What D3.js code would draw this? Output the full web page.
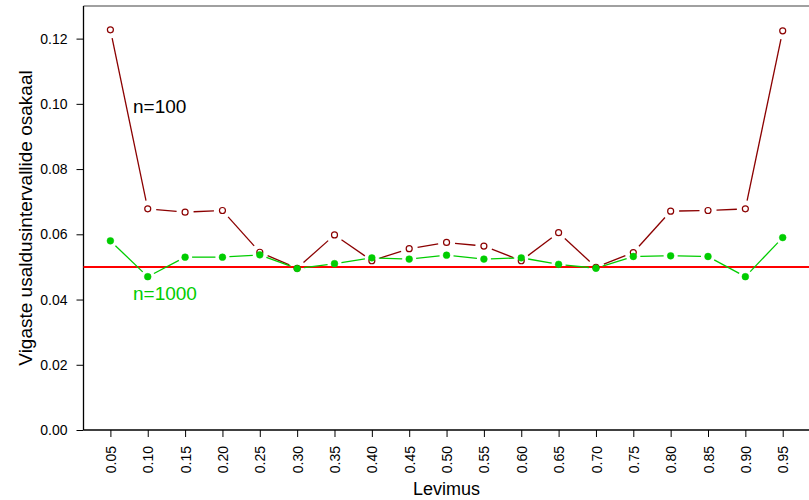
<!DOCTYPE html>
<html>
<head>
<meta charset="utf-8">
<script src="https://cdn.jsdelivr.net/npm/d3@7"></script>
<style>
  html, body { margin: 0; padding: 0; background: #fff; }
  svg { display: block; font-family: "Liberation Sans", Arial, sans-serif; }
</style>
</head>
<body>
<svg id="chart" width="809" height="500"></svg>
<script>
// Prevalence levels on the x axis
const levels = ["0.05","0.10","0.15","0.20","0.25","0.30","0.35","0.40","0.45","0.50",
                "0.55","0.60","0.65","0.70","0.75","0.80","0.85","0.90","0.95"];
// Share of confidence intervals that miss the true value, n = 100
const share100 = [0.1227,0.0678,0.0668,0.0673,0.0545,0.0496,0.0598,0.0519,0.0556,0.0575,
                  0.0564,0.0519,0.0605,0.0499,0.0544,0.0671,0.0673,0.0678,0.1224];
// Same for n = 1000
const share1000 = [0.0580,0.0470,0.0530,0.0530,0.0537,0.0495,0.0510,0.0528,0.0524,0.0536,
                   0.0524,0.0528,0.0508,0.0496,0.0532,0.0534,0.0532,0.0470,0.0590];
const yTicks = [0.00,0.02,0.04,0.06,0.08,0.10,0.12];
const nominal = 0.05;

const svg = d3.select("#chart");
const plotLeft = 83.5, plotRight = 809.6, plotTop = 6, plotBottom = 430;

// R-style x range: indices 1..19 padded by 4%
const x = d3.scaleLinear().domain([0.28, 19.72]).range([plotLeft, plotRight]);
const y = d3.scaleLinear().domain([0, 0.13]).range([plotBottom, plotTop]);
const xi = i => x(i + 1);

// top frame edge
svg.append("line").attr("x1", plotLeft).attr("x2", 809).attr("y1", plotTop).attr("y2", plotTop)
  .attr("stroke", "#808080").attr("stroke-width", 1.5);

// y axis
const yAxis = svg.append("g").attr("transform", `translate(${plotLeft},0)`)
  .call(d3.axisLeft(y).tickValues(yTicks).tickFormat(d3.format(".2f")).tickSize(7).tickPadding(9));
yAxis.select(".domain").remove();
yAxis.selectAll("line").attr("stroke", "#000");
yAxis.selectAll("text").attr("font-size", 14).attr("fill", "#000")
  .attr("font-family", "Liberation Sans, Arial, sans-serif");
svg.append("line").attr("x1", plotLeft).attr("x2", plotLeft).attr("y1", plotTop).attr("y2", plotBottom)
  .attr("stroke", "#000").attr("stroke-width", 1.3);

// x axis with rotated labels
const xAxis = svg.append("g").attr("transform", `translate(0,${plotBottom})`)
  .call(d3.axisBottom(x).tickValues(d3.range(1, levels.length + 1))
    .tickFormat(d => levels[d - 1]).tickSize(7));
xAxis.select(".domain").remove();
xAxis.selectAll("line").attr("stroke", "#000");
xAxis.selectAll("text")
  .attr("font-size", 14).attr("fill", "#000")
  .attr("font-family", "Liberation Sans, Arial, sans-serif")
  .attr("transform", "rotate(-90)")
  .attr("x", -16).attr("y", 0).attr("dy", "0.36em")
  .attr("text-anchor", "end");
svg.append("line").attr("x1", plotLeft).attr("x2", 809).attr("y1", plotBottom).attr("y2", plotBottom)
  .attr("stroke", "#000").attr("stroke-width", 1.3);

// reference line at the nominal 5% level
svg.append("line").attr("x1", plotLeft).attr("x2", 809)
  .attr("y1", y(nominal)).attr("y2", y(nominal))
  .attr("stroke", "#ff0000").attr("stroke-width", 2);

// lines with gaps around each point, then the points
function series(values, color, gap, filled, r) {
  const pts = values.map((v, i) => [xi(i), y(v)]);
  const g = svg.append("g");
  for (let i = 0; i < pts.length - 1; i++) {
    const [x0, y0] = pts[i], [x1, y1] = pts[i + 1];
    const dx = x1 - x0, dy = y1 - y0, len = Math.hypot(dx, dy);
    if (len <= 2 * gap) continue;
    const ux = dx / len, uy = dy / len;
    g.append("line")
      .attr("x1", x0 + ux * gap).attr("y1", y0 + uy * gap)
      .attr("x2", x1 - ux * gap).attr("y2", y1 - uy * gap)
      .attr("stroke", color).attr("stroke-width", 1.3);
  }
  g.selectAll("circle").data(values).join("circle")
    .attr("cx", (d, i) => xi(i)).attr("cy", d => y(d)).attr("r", r)
    .attr("fill", filled ? color : "#fff")
    .attr("stroke", color).attr("stroke-width", filled ? 0.5 : 1.2);
}
series(share100, "#8b0000", 8.5, false, 3);
series(share1000, "#00cd00", 7, true, 3.4);

// series labels
svg.append("text").attr("x", 133).attr("y", 113).attr("font-size", 19)
  .attr("fill", "#000").text("n=100");
svg.append("text").attr("x", 133).attr("y", 300).attr("font-size", 19)
  .attr("fill", "#00cd00").text("n=1000");

// axis titles
svg.append("text").attr("x", (plotLeft + plotRight) / 2).attr("y", 495)
  .attr("text-anchor", "middle").attr("font-size", 18).attr("fill", "#000").text("Levimus");
svg.append("text").attr("transform", `translate(32,${(plotTop + plotBottom) / 2}) rotate(-90)`)
  .attr("text-anchor", "middle").attr("font-size", 19).attr("fill", "#000")
  .text("Vigaste usaldusintervallide osakaal");
</script>
</body>
</html>
